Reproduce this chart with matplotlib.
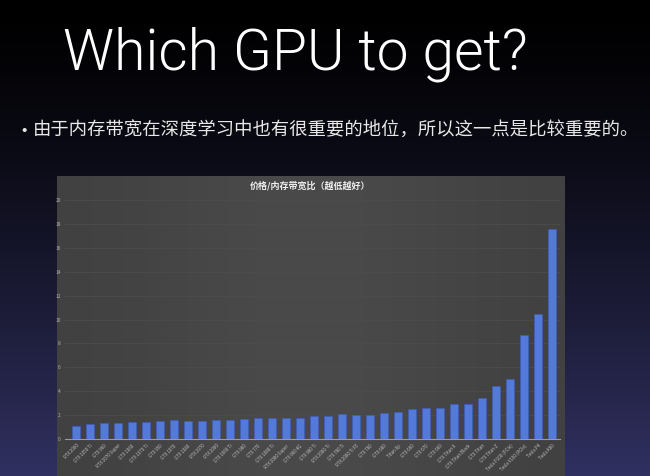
import matplotlib
matplotlib.use('Agg')
import matplotlib.pyplot as plt
import numpy as np

plt.rcParams['font.family'] = ['Noto Sans CJK SC', 'DejaVu Sans']

"""数据"""
gpus = ["RTX 2060", "GTX 1050 Ti", "GTX 960", "RTX 2070 Super", "GTX 1060",
        "GTX 1070 Ti", "GTX 950", "GTX 1070", "GTX 1080", "RTX 2070",
        "RTX 2080", "GTX 1660 Ti", "GTX 980", "GTX 770", "GTX 1080 Ti",
        "RTX 2080 Super", "GTX 960 4G", "GTX 980 Ti", "RTX 2080 Ti", "GTX 780 Ti",
        "RTX 2080 Ti FE", "GTX 780", "GTX 680", "Titan Xp", "GTX 690",
        "GTX 670", "GTX 660", "GTX Titan X", "GTX Titan Black", "GTX Titan",
        "GTX Titan Z", "Tesla P100 (PCIe)", "Tesla V100 (PCIe)", "Tesla P4", "Tesla K80"]
ratio = [1.1, 1.27, 1.3, 1.36, 1.42, 1.45, 1.5, 1.55, 1.53, 1.5,
         1.6, 1.62, 1.7, 1.75, 1.78, 1.78, 1.78, 1.93, 1.93, 2.08,
         2.05, 2.05, 2.17, 2.22, 2.47, 2.6, 2.63, 2.95, 2.95, 3.45,
         4.45, 5.0, 8.7, 10.45, 17.57]
yticks = [0, 2, 4, 6, 8, 10, 12, 14, 16, 18, 20]

title = 'Which GPU to get?'
bullet = '由于内存带宽在深度学习中也有很重要的地位，所以这一点是比较重要的。'
chart_title = '价格/内存带宽比（越低越好）'

W, H = 650, 476
fig = plt.figure(figsize=(W / 100, H / 100), dpi=100)

"""幻灯片背景渐变"""
bg = fig.add_axes([0, 0, 1, 1])
grad = np.linspace(0, 1, 256) ** 1.3
top = np.array([0.0, 0.0, 0.0])
bottom = np.array([0.19, 0.19, 0.38])
img = top[None, :] * (1 - grad[:, None]) + bottom[None, :] * grad[:, None]
bg.imshow(img[:, None, :], aspect='auto', extent=[0, 1, 0, 1], origin='upper')
bg.set_xlim(0, 1)
bg.set_ylim(0, 1)
bg.axis('off')

fig.text(295 / W, 1 - 54 / H, title, ha='center', va='center', color='white',
         fontsize=41, fontweight=300, family=['Roboto', 'Liberation Sans', 'DejaVu Sans'])
fig.text(14 / W, 1 - 131 / H, '•', ha='left', va='center', color='#e8e8e8', fontsize=14)
fig.text(33 / W, 1 - 131 / H, bullet, ha='left', va='center', color='#e8e8e8',
         fontsize=13.2, fontweight='light')

"""图表面板"""
panel = np.linspace(0, 1, 200)
shade = 0.25 + 0.04 * np.exp(-((panel - 0.5) / 0.35) ** 2)
bg.imshow(np.repeat(shade[None, :, None], 3, axis=2), aspect='auto',
          extent=[57 / W, 565 / W, 0, (476 - 176) / H], zorder=2)
fig.text(310 / W, 1 - 186 / H, chart_title, ha='center', va='center', color='#eeeeee',
         fontsize=6.5, fontweight='bold')

ax = fig.add_axes([65 / W, 37 / H, 495 / W, 239 / H])
ax.set_facecolor('none')
x = np.arange(len(gpus))
ax.bar(x, ratio, width=0.58, color='#5379da', edgecolor='#3a5fc0', linewidth=0.4, zorder=3)
ax.set_xlim(-0.79, len(gpus) - 0.43)
ax.set_ylim(0, 20)
ax.set_yticks(yticks)
ax.set_yticklabels([str(v) for v in yticks])
ax.tick_params(axis='y', length=0, labelsize=3.5, colors='#b0b0b0', pad=3)
ax.set_xticks(x)
ax.set_xticklabels(gpus, rotation=45, ha='right', rotation_mode='anchor')
ax.tick_params(axis='x', length=0, labelsize=3.2, colors='#c0c0c0', pad=3)
ax.grid(axis='y', color='#4c4c4c', linewidth=0.6, zorder=0)
for s in ['top', 'right', 'left']:
    ax.spines[s].set_visible(False)
ax.spines['bottom'].set_color('#9a9a9a')
ax.spines['bottom'].set_linewidth(0.8)

fig.savefig('out.png', dpi=100)
